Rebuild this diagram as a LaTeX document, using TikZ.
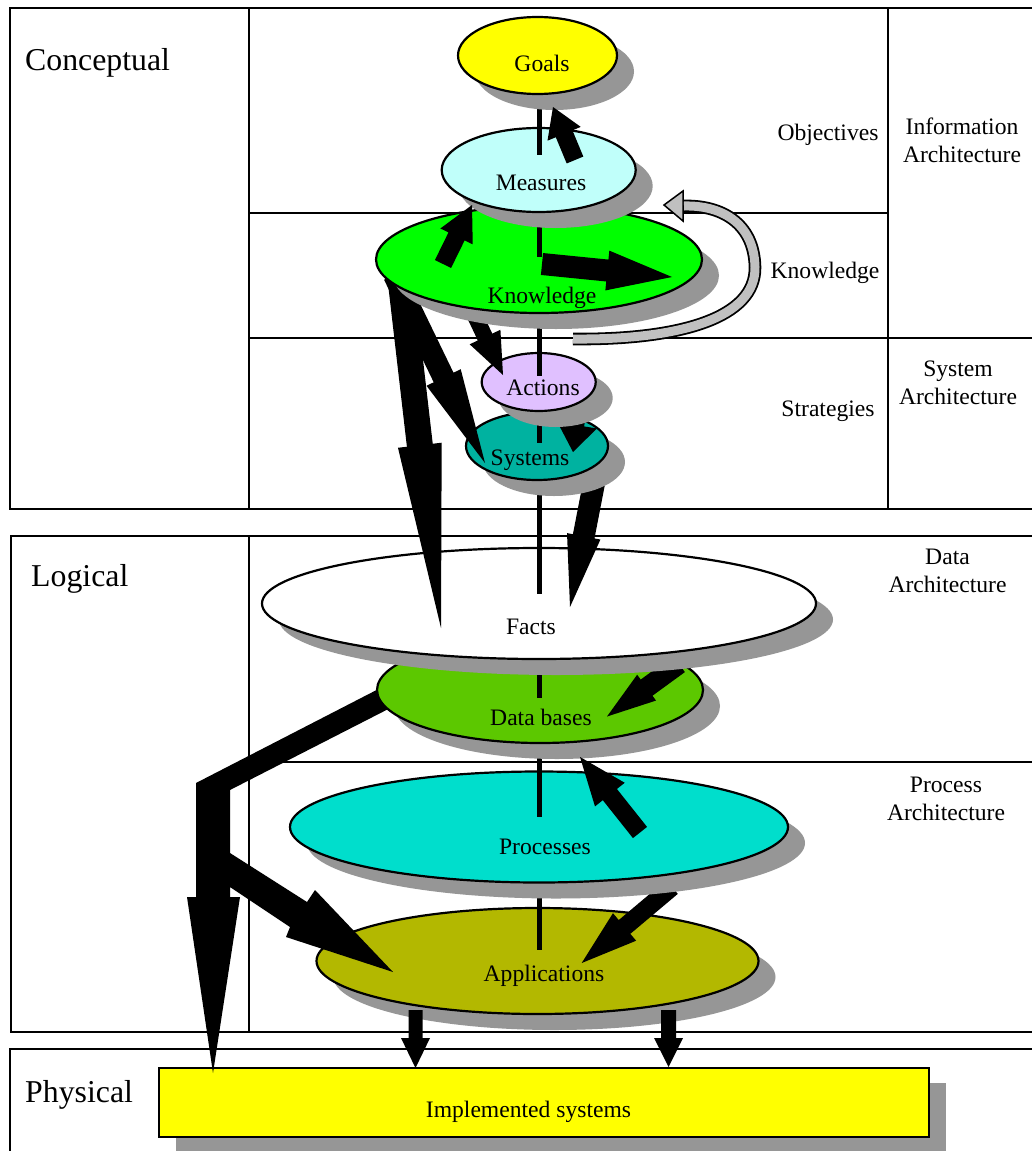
\documentclass[tikz,border=0pt]{standalone}
\usepackage{fontspec}
\setmainfont{Liberation Serif}
\usetikzlibrary{calc,shapes.geometric,shadows}
\definecolor{shgray}{RGB}{150,150,150}
\definecolor{lgray}{RGB}{192,192,192}
\definecolor{cGoals}{RGB}{255,255,0}
\definecolor{cMeas}{RGB}{192,255,250}
\definecolor{cKnow}{RGB}{0,255,0}
\definecolor{cAct}{RGB}{224,192,255}
\definecolor{cSys}{RGB}{0,178,160}
\definecolor{cData}{RGB}{92,200,0}
\definecolor{cProc}{RGB}{0,222,204}
\definecolor{cApp}{RGB}{179,184,0}
% block arrow: tail, tip, shaft half width, head half width, head length
\newcommand\barrow[5]{%
  \coordinate (bH) at ($(#2)!#5!(#1)$);
  \fill[blk] ($(#1)!#3!90:(#2)$) -- ($(bH)!#3!90:(#2)$) -- ($(bH)!#4!90:(#2)$) -- (#2)
     -- ($(bH)!#4!-90:(#2)$) -- ($(bH)!#3!-90:(#2)$) -- ($(#1)!#3!-90:(#2)$) -- cycle;}
\begin{document}
\begin{tikzpicture}[x=1pt,y=-1pt,
  frm/.style={line width=2pt},
  elli/.style={ellipse, draw, line width=2.2pt, inner sep=0pt,
     drop shadow={shadow xshift=17pt, shadow yshift=-16pt, opacity=1, fill=shgray, draw=none}},
  lab/.style={font=\fontsize{23.6}{28}\selectfont, anchor=base, inner sep=0pt},
  lab2/.style={font=\fontsize{23.6}{28}\selectfont, align=center, inner sep=0pt},
  big/.style={font=\fontsize{31.8}{36}\selectfont, anchor=base west, inner sep=0pt},
  blk/.style={fill=black},
  spine/.style={line width=5pt}]
\useasboundingbox[fill=white] (0,0) rectangle (1031,1151);
% ---------- frames ----------
\draw[frm] (10,8) rectangle (1045,509);
\draw[frm] (249,8) -- (249,509);
\draw[frm] (888,8) -- (888,509);
\draw[frm] (249,213) -- (888,213);
\draw[frm] (249,338) -- (1045,338);
\draw[frm] (11,536) rectangle (1045,1032);
\draw[frm] (249,536) -- (249,1032);
\draw[frm] (249,762) -- (1045,762);
\draw[frm] (10,1049) rectangle (1045,1165);
% ---------- labels ----------
\node[big] (lconc) at (25,70.5) {Conceptual};
\node[big] (llog) at (31,586) {Logical};
\node[big] (lphys) at (25,1102) {Physical};
\node[lab] (lobj) at (828,140) {Objectives};
\node[lab] (lknow) at (825,278) {Knowledge};
\node[lab] (lstrat) at (828,416.7) {Strategies};
\node[lab2] (linfo) at (962,140) {Information\\Architecture};
\node[lab2] (lsysa) at (958,382.7) {System\\Architecture};
\node[lab2] (ldata) at (947.5,571) {Data\\Architecture};
\node[lab2] (lproc) at (946,799.3) {Process\\Architecture};
% ---------- coordinates for arrows ----------
\coordinate (a1s) at (575,160);   \coordinate (a1e) at (553,107);
\coordinate (a2s) at (443,264);   \coordinate (a2e) at (472,205);
\coordinate (a3s) at (542,264);   \coordinate (a3e) at (672,277);
\coordinate (a4s) at (399.5,270); \coordinate (a4e) at (441,628);
\coordinate (a5s) at (394,275);   \coordinate (a5e) at (485,463);
\coordinate (a6s) at (468,301);   \coordinate (a6e) at (503,375);
\coordinate (a7s) at (582,395);   \coordinate (a7e) at (573,452);
\coordinate (a8s) at (595,478);   \coordinate (a8e) at (570,607);
\coordinate (a9s) at (679,664);   \coordinate (a9e) at (607,716.5);
\coordinate (a10s) at (640,832.5); \coordinate (a10e) at (580,757);
\coordinate (a11s) at (672,887);  \coordinate (a11e) at (581.7,963);
\coordinate (a12s) at (415.5,1010); \coordinate (a12e) at (415.5,1068);
\coordinate (a13s) at (668.5,1010); \coordinate (a13e) at (668.5,1067);
% ---------- implemented systems ----------
\node[draw, line width=2.2pt, fill=cGoals, minimum width=770pt, minimum height=69pt, inner sep=0pt,
  drop shadow={shadow xshift=17pt, shadow yshift=-15pt, opacity=1, fill=shgray, draw=none}] (impl) at (544,1102.5) {};
\node[lab] (implT) at (528.5,1117.3) {Implemented systems};
% ---------- applications ----------
\node[elli, fill=cApp, minimum width=442pt, minimum height=106pt] (app) at (537.5,961) {};
\node[lab] (appT) at (544,981.7) {Applications};
\draw[spine] (539,894) -- (539,950);
\barrow{a12s}{a12e}{7pt}{14.5pt}{30pt}
\barrow{a13s}{a13e}{7.5pt}{14.5pt}{29pt}
\barrow{a11s}{a11e}{9pt}{18pt}{56pt}
% ---------- processes ----------
\node[elli, fill=cProc, minimum width=498pt, minimum height=111pt] (proc) at (539,827) {};
\node[lab] (procT) at (545,854) {Processes};
\draw[spine] (539,755) -- (539,817);
% bent arrow from data bases
\fill[blk] (396,680) -- (196,783) -- (196,897) -- (187,897) -- (213,1073) -- (240,897) -- (230,897)
  -- (230,887) -- (290,927) -- (286,937) -- (393,972) -- (315,890) -- (307,902) -- (230,853)
  -- (230,790) -- (404,701) -- cycle;
% ---------- data bases ----------
\node[elli, fill=cData, minimum width=326pt, minimum height=106pt] (data) at (540,690) {};
\node[lab] (dataT) at (541,725) {Data bases};
\draw[spine] (539,675) -- (539,698);
\barrow{a10s}{a10e}{9pt}{19pt}{48pt}
\barrow{a9s}{a9e}{10pt}{16pt}{49pt}
% ---------- facts ----------
\node[elli, fill=white, minimum width=554pt, minimum height=111pt] (facts) at (539,603.5) {};
\node[lab] (factsT) at (531,634.3) {Facts};
\draw[spine] (539,492) -- (539,594);
\barrow{a4s}{a4e}{13pt}{22pt}{184pt}
\barrow{a8s}{a8e}{11pt}{17pt}{72pt}
% ---------- systems ----------
\node[elli, fill=cSys, minimum width=142pt, minimum height=68pt] (sys) at (537,446) {};
\node[lab] (sysT) at (530,465.7) {Systems};
\draw[spine] (539,423) -- (539,443);
\barrow{a5s}{a5e}{11pt}{19pt}{95pt}
\barrow{a7s}{a7e}{7pt}{20pt}{27pt}
% ---------- actions ----------
\node[elli, fill=cAct, minimum width=114pt, minimum height=58pt] (act) at (538.7,382) {};
\node[lab] (actT) at (543,395.7) {Actions};
\draw[spine] (539,327) -- (539,376);
\barrow{a6s}{a6e}{8pt}{17pt}{42pt}
% ---------- knowledge ----------
\node[elli, fill=cKnow, minimum width=326pt, minimum height=107pt] (know) at (539,259.5) {};
\node[lab] (knowT) at (542,303.5) {Knowledge};
\draw[spine] (539,226) -- (539,257);
\barrow{a3s}{a3e}{11pt}{20pt}{65pt}
% ---------- measures ----------
\node[elli, fill=cMeas, minimum width=194pt, minimum height=84pt] (meas) at (538.7,170) {};
\node[lab] (measT) at (541,190.7) {Measures};
\draw[spine] (539,109) -- (539,155);
\barrow{a2s}{a2e}{9pt}{18pt}{35pt}
% ---------- goals ----------
\node[elli, fill=cGoals, minimum width=159pt, minimum height=77pt] (goals) at (537.5,55.5) {};
\node[lab] (goalsT) at (542,71.7) {Goals};
\barrow{a1s}{a1e}{9pt}{18pt}{29pt}
% ---------- curved feedback arrow ----------
\coordinate (cs) at (573,339);
\coordinate (ce) at (684,206);
\filldraw[fill=lgray, draw=black, line width=1.5pt] (664,205) -- (683,191) -- (683,221) -- cycle;
\draw[line width=1.8pt, double=lgray, double distance=9pt] (cs) .. controls (680,340) and (756,318) .. (755,267) .. controls (754,222) and (720,205) .. (ce);
\end{tikzpicture}
\end{document}
